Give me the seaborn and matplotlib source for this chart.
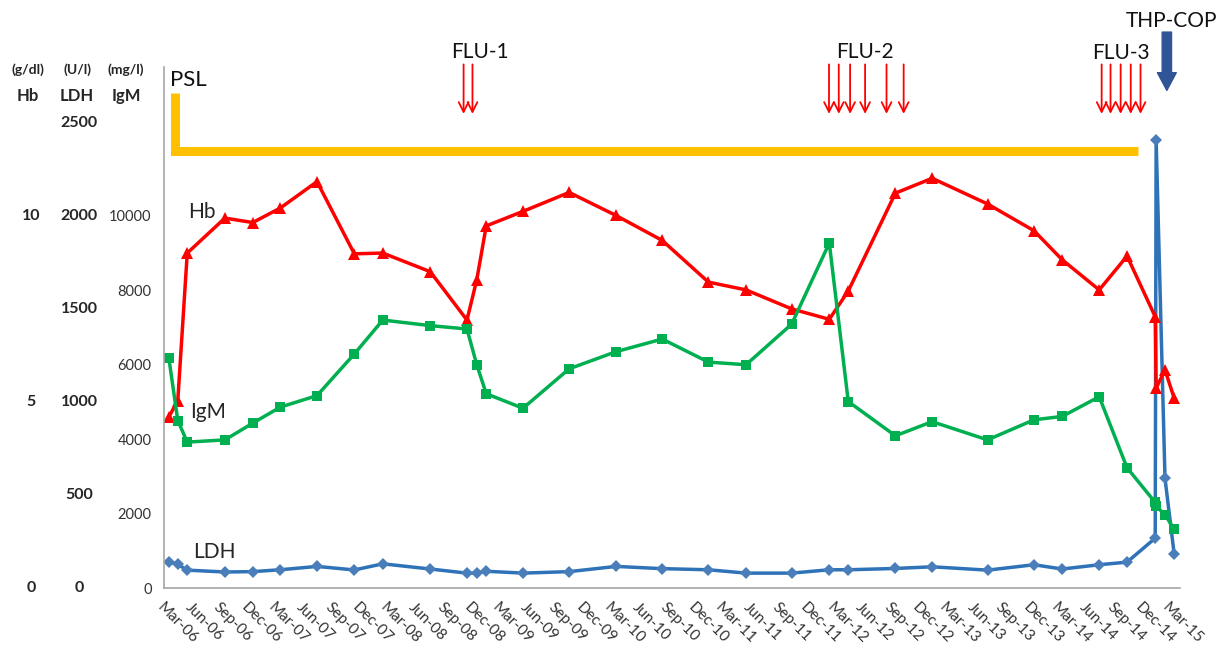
import pandas as pd
import matplotlib
matplotlib.use('Agg')
import matplotlib.pyplot as plt
import matplotlib.dates as mdates
import matplotlib.transforms as mtransforms
import seaborn as sns

# 測定日 (2015-01 は治療前後で2回)
dates = ['2006-03-17', '2006-04-15', '2006-05-16', '2006-09-16', '2006-12-16',
         '2007-03-16', '2007-07-14', '2007-11-13', '2008-02-14', '2008-07-18',
         '2008-11-15', '2008-12-17', '2009-01-17', '2009-05-17', '2009-10-15',
         '2010-03-17', '2010-08-15', '2011-01-13', '2011-05-16', '2011-10-12',
         '2012-02-12', '2012-04-14', '2012-09-15', '2013-01-13', '2013-07-13',
         '2013-12-12', '2014-03-14', '2014-07-13', '2014-10-12', '2015-01-12',
         '2015-01-15', '2015-02-13', '2015-03-15']

# Hb (g/dl)
hb = [4.6, 5.03, 9.0, 9.94, 9.82, 10.21, 10.92, 8.98, 9.0, 8.5,
      7.2, 8.28, 9.73, 10.12, 10.63, 10.01, 9.34, 8.22, 8.01, 7.5,
      7.22, 7.98, 10.61, 11.01, 10.32, 9.6, 8.82, 8.01, 8.92, 7.29,
      5.37, 5.86, 5.1]

# IgM (mg/l)
igm = [6170, 4500, 3920, 3980, 4430, 4860, 5170, 6290, 7200, 7050,
       6960, 6000, 5220, 4830, 5890, 6350, 6690, 6070, 6000, 7090,
       9270, 5010, 4090, 4470, 3980, 4520, 4610, 5140, 3230, 2300,
       2200, 1970, 1580]

# LDH (U/l)
ldh = [142, 127, 96, 86, 88, 98, 116, 97, 130, 102,
       80, 80, 90, 80, 88, 116, 104, 98, 80, 80,
       98, 98, 105, 114, 96, 125, 102, 125, 139, 268,
       2409, 589, 182]

# PSL 投与期間
psl_dates = ['2006-04-07', '2006-04-07', '2014-11-17']
psl_level = [13300, 11730, 11730]

# 治療イベント
flu1_dates = ['2008-11-04', '2008-12-03']
flu2_dates = ['2012-02-11', '2012-03-14', '2012-04-20', '2012-06-08', '2012-08-17', '2012-10-12']
flu3_dates = ['2014-07-21', '2014-08-19', '2014-09-21', '2014-10-24', '2014-11-25']
thp_date = '2015-02-19'

# 左側の補助目盛
hb_ticks = [0, 5, 10]
ldh_ticks = [0, 500, 1000, 1500, 2000, 2500]
igm_ticks = [0, 2000, 4000, 6000, 8000, 10000, 12000, 14000]
igm_labels = ['0', '2000', '4000', '6000', '8000', '10000', '', '']

df = pd.DataFrame({'date': pd.to_datetime(dates), 'Hb': hb, 'IgM': igm, 'LDH': ldh})
# IgM軸に合わせてスケーリング (Hb x1000, LDH x5)
df['Hb_s'] = df['Hb'] * 1000
df['LDH_s'] = df['LDH'] * 5
psl = pd.DataFrame({'date': pd.to_datetime(psl_dates), 'level': psl_level})

sns.set_style('white')
plt.rcParams['font.family'] = ['Lato', 'DejaVu Sans']

W, H = 1229, 646
fig = plt.figure(figsize=(W / 100, H / 100), dpi=100)
ax = fig.add_axes([164 / W, 58 / H, (1180 - 164) / W, (588 - 67) / H])

sns.lineplot(data=psl, x='date', y='level', ax=ax, color='#FFC000', lw=6.5,
             estimator=None, sort=False, solid_joinstyle='miter', solid_capstyle='butt')
sns.lineplot(data=df, x='date', y='LDH_s', ax=ax, color='#2E72B8', lw=2.5,
             marker='D', markersize=6.5, markerfacecolor='#4A7EBB', markeredgewidth=0,
             estimator=None, sort=False)
sns.lineplot(data=df, x='date', y='Hb_s', ax=ax, color='#FF0000', lw=2.5,
             marker='^', markersize=8.5, markeredgewidth=0, estimator=None, sort=False)
sns.lineplot(data=df, x='date', y='IgM', ax=ax, color='#00B050', lw=2.5,
             marker='s', markersize=7.5, markeredgewidth=0, estimator=None, sort=False)

ax.set_xlim(pd.Timestamp('2006-03-01'), pd.Timestamp('2015-04-03'))
ax.set_ylim(0, 14000)
ax.set_xlabel('')
ax.set_ylabel('')

ax.set_yticks(igm_ticks)
ax.set_yticklabels(igm_labels)
ax.xaxis.set_major_locator(mdates.MonthLocator(bymonth=[3, 6, 9, 12]))
ax.xaxis.set_major_formatter(mdates.DateFormatter('%b-%y'))
plt.setp(ax.get_xticklabels(), rotation=-45, ha='left', va='top', rotation_mode='anchor')

for side in ['top', 'right']:
    ax.spines[side].set_visible(False)
for side in ['left', 'bottom']:
    ax.spines[side].set_color('#A6A6A6')
    ax.spines[side].set_linewidth(1.2)
ax.tick_params(axis='both', direction='out', length=5, width=1, color='#A6A6A6',
               labelcolor='#333333')
ax.tick_params(axis='x', labelsize=11, pad=4)
ax.tick_params(axis='y', labelsize=10.5, pad=4)

# 系列ラベル
fig.text(202 / W, 1 - 212 / H, 'Hb', fontsize=15, color='#262626', ha='center', va='center')
fig.text(208 / W, 1 - 412 / H, 'IgM', fontsize=15, color='#262626', ha='center', va='center')
fig.text(214 / W, 1 - 552 / H, 'LDH', fontsize=15, color='#262626', ha='center', va='center')
fig.text(188 / W, 1 - 80 / H, 'PSL', fontsize=16, color='#111111', ha='center', va='center')

# 左側の単位と目盛
for x, unit, name in [(28, '(g/dl)', 'Hb'), (77, '(U/l)', 'LDH'), (126, '(mg/l)', 'IgM')]:
    fig.text(x / W, 1 - 70 / H, unit, fontsize=10, fontweight='bold', color='#262626',
             ha='center', va='center')
    fig.text(x / W, 1 - 96 / H, name, fontsize=12, fontweight='bold', color='#262626',
             ha='center', va='center')
trans_left = mtransforms.blended_transform_factory(fig.transFigure, ax.transData)
for v in hb_ticks:
    ax.text(31 / W, v * 1000, str(v), transform=trans_left, fontsize=11.5, fontweight='bold',
            color='#262626', ha='center', va='center')
for v in ldh_ticks:
    ax.text(79 / W, v * 5, str(v), transform=trans_left, fontsize=11.5, fontweight='bold',
            color='#262626', ha='center', va='center')

# 治療の矢印
trans_arrow = mtransforms.blended_transform_factory(ax.transData, ax.transAxes)
for d in flu1_dates + flu2_dates + flu3_dates:
    xd = mdates.date2num(pd.Timestamp(d))
    ax.annotate('', xy=(xd, 0.91), xytext=(xd, 1.005), xycoords=trans_arrow,
                textcoords=trans_arrow, annotation_clip=False,
                arrowprops=dict(arrowstyle='->,head_length=0.7,head_width=0.35', color='#FF0000',
                                lw=1.3, shrinkA=0, shrinkB=0))
xd = mdates.date2num(pd.Timestamp(thp_date))
ax.annotate('', xy=(xd, 0.955), xytext=(xd, 1.067), xycoords=trans_arrow,
            textcoords=trans_arrow, annotation_clip=False,
            arrowprops=dict(arrowstyle='simple,head_length=0.8,head_width=0.85,tail_width=0.42',
                            color='#2F5597', shrinkA=0, shrinkB=0, mutation_scale=16))

fig.text(480 / W, 1 - 52 / H, 'FLU-1', fontsize=15, color='#111111', ha='center', va='center')
fig.text(865 / W, 1 - 52 / H, 'FLU-2', fontsize=15, color='#111111', ha='center', va='center')
fig.text(1121 / W, 1 - 53 / H, 'FLU-3', fontsize=15, color='#111111', ha='center', va='center')
fig.text(1172 / W, 1 - 21 / H, 'THP-COP', fontsize=15, color='#111111', ha='center', va='center')

plt.savefig('out.png', dpi=100)
